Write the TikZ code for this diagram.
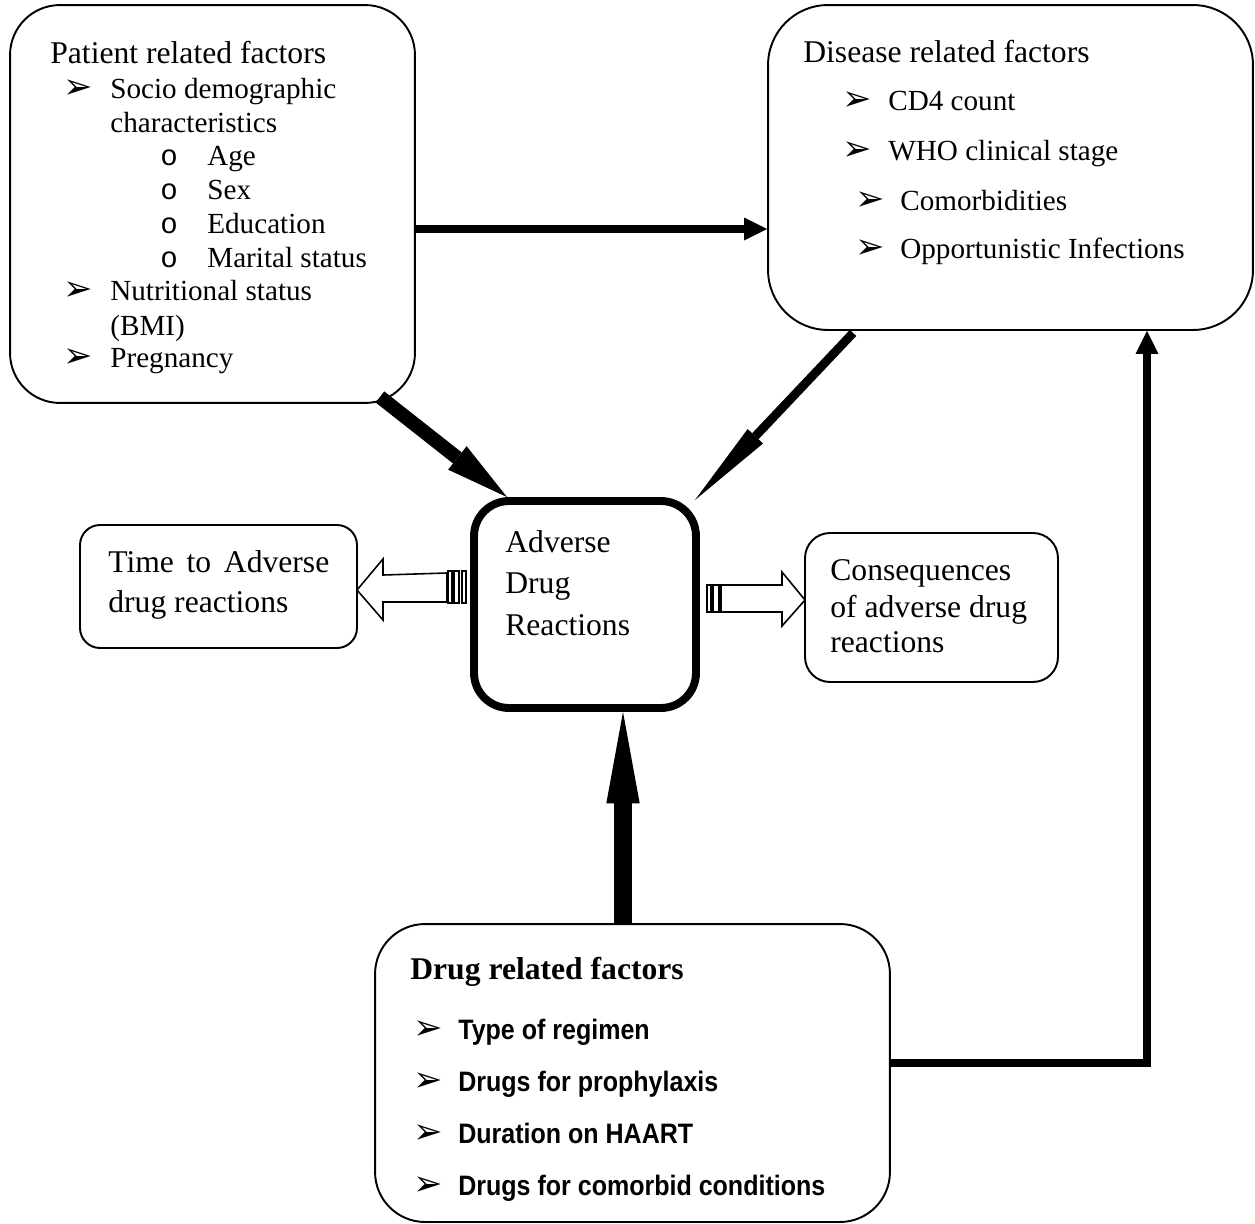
\documentclass[tikz,border=0pt]{standalone}
\usepackage{fontspec}
\setmainfont{Liberation Serif}
\setmonofont{Liberation Mono}
\newfontfamily\symfont{DejaVu Sans}
\newfontfamily\narrowsans[FakeStretch=0.89]{Liberation Sans}
\usetikzlibrary{arrows.meta,calc}
\newcommand{\arrbul}{{\normalfont\symfont\fontsize{20}{20}\selectfont ➢}}
\newcommand{\obul}{{\ttfamily o}}

\tikzset{
	box/.style={draw, line width=1.1pt, inner sep=0pt},
	txt/.style={anchor=base west, inner sep=0pt, font=\fontsize{18}{20}\selectfont},
	itemtxt/.style={anchor=base west, inner sep=0pt, font=\fontsize{16.6}{19}\selectfont},
	drugtxt/.style={anchor=base west, inner sep=0pt, font=\narrowsans\bfseries\fontsize{16}{18}\selectfont},
	conn/.style={line width=#1, line cap=butt},
	stripe/.style={draw, fill=white, line width=0.6pt},
	blockarrow/.style={draw, fill=white, line width=0.9pt, line join=miter},
}

\begin{document}
\begin{tikzpicture}[x=0.02cm, y=-0.02cm]
		\useasboundingbox (0,0) rectangle (1255,1224);
		% boxes
		\node[box, rounded corners=1cm, minimum width=8.1cm, minimum height=7.96cm] (patient) at (212.5,204) {};
		\node[box, rounded corners=1.2cm, minimum width=9.7cm, minimum height=6.5cm] (disease) at (1010.5,167.5) {};
		\node[box, line width=4.5pt, rounded corners=0.7cm, minimum width=4.44cm, minimum height=4.14cm] (adr) at (585,604.5) {};
		\node[box, rounded corners=0.4cm, minimum width=5.54cm, minimum height=2.46cm] (time) at (218.5,586.5) {};
		\node[box, rounded corners=0.5cm, minimum width=5.06cm, minimum height=2.98cm] (conseq) at (931.5,607.5) {};
		\node[box, rounded corners=1cm, minimum width=10.3cm, minimum height=5.96cm] (drug) at (632.5,1073) {};
		
		% patient related factors
		\node[txt] (pat0) at (50,63) {Patient related factors};
		\node[itemtxt] (pat1) at (63,98) {\makebox[0.94cm][l]{\arrbul}Socio demographic};
		\node[itemtxt] (pat2) at (110,132) {characteristics};
		\foreach \w [count=\i] in {Age,Sex,Education,Marital status}
		{
			\node[itemtxt] (sub\i) at (160,131+\i*34) {\makebox[0.94cm][l]{\obul}\w};
		}
		\node[itemtxt] (pat3) at (63,300) {\makebox[0.94cm][l]{\arrbul}Nutritional status};
		\node[itemtxt] (pat4) at (110,335) {(BMI)};
		\node[itemtxt] (pat5) at (63,367) {\makebox[0.94cm][l]{\arrbul}Pregnancy};
		
		% disease related factors
		\node[txt] (dis0) at (803,62) {Disease related factors};
		\node[itemtxt] (dis1) at (842,110) {\makebox[0.92cm][l]{\arrbul}CD4 count};
		\node[itemtxt] (dis2) at (842,160) {\makebox[0.92cm][l]{\arrbul}WHO clinical stage};
		\node[itemtxt] (dis3) at (855,210) {\makebox[0.9cm][l]{\arrbul}Comorbidities};
		\node[itemtxt] (dis4) at (855,258) {\makebox[0.9cm][l]{\arrbul}Opportunistic Infections};
		
		% centre and side boxes
		\node[txt] (adr1) at (505,552) {Adverse};
		\node[txt] (adr2) at (505,593) {Drug};
		\node[txt] (adr3) at (505,635) {Reactions};
		\node[txt] (time1) at (108,572) {\makebox[4.42cm][s]{Time to Adverse}};
		\node[txt] (time2) at (108,612) {drug reactions};
		\node[txt] (conseq1) at (830,580) {Consequences};
		\node[txt] (conseq2) at (830,617) {of adverse drug};
		\node[txt] (conseq3) at (830,652) {reactions};
		
		% drug related factors
		\node[txt, font=\bfseries\fontsize{18}{20}\selectfont] (drug0) at (410,979) {Drug related factors};
		\foreach \w [count=\i] in {Type of regimen,Drugs for prophylaxis,Duration on HAART,Drugs for comorbid conditions}
		{
			\node[drugtxt] (item\i) at (413,987+\i*52) {\makebox[0.9cm][l]{\arrbul}\w};
		}
		
		% connectors
		\draw[conn=4.5pt, -{Triangle[length=13pt,width=13pt,line width=0pt]}] (patient.east |- 0,229) -- (disease.west |- 0,229);
		\draw[conn=8pt, -{Triangle[length=36pt,width=17pt,line width=0pt]}] ($(patient.south east)+(-36,-7)$) -- ($(adr.north west)+(37,0)$);
		\draw[conn=5pt, -{Triangle[length=50pt,width=12pt,line width=0pt]}] ($(disease.south west)+(86,2)$) -- ($(adr.north east)+(-5,3)$);
		\draw[conn=10pt, -{Triangle[length=52pt,width=19pt,line width=0pt]}] (drug.north -| 623,0) -- (adr.south -| 623,0);
		\draw[conn=4.5pt, line join=miter, -{Triangle[length=13pt,width=13pt,line width=0pt]}] (drug.east |- 0,1063) -| (disease.south -| 1147,0);
		
		% striped block arrows
		\draw[blockarrow] (447,573) -- (383,575) -- (383,559) -- (357,590) -- (383,620) -- (383,602) -- (447,602) -- cycle;
		\foreach \a/\b in {448/452,454/459,462/466}
			\draw[stripe] (\a,571) rectangle (\b,603);
		\draw[blockarrow] (721,585) -- (782,585) -- (782,572) -- (805,600) -- (782,626) -- (782,612) -- (721,612) -- cycle;
		\foreach \a/\b in {707/711,713/719}
			\draw[stripe] (\a,585) rectangle (\b,612);
\end{tikzpicture}
\end{document}
